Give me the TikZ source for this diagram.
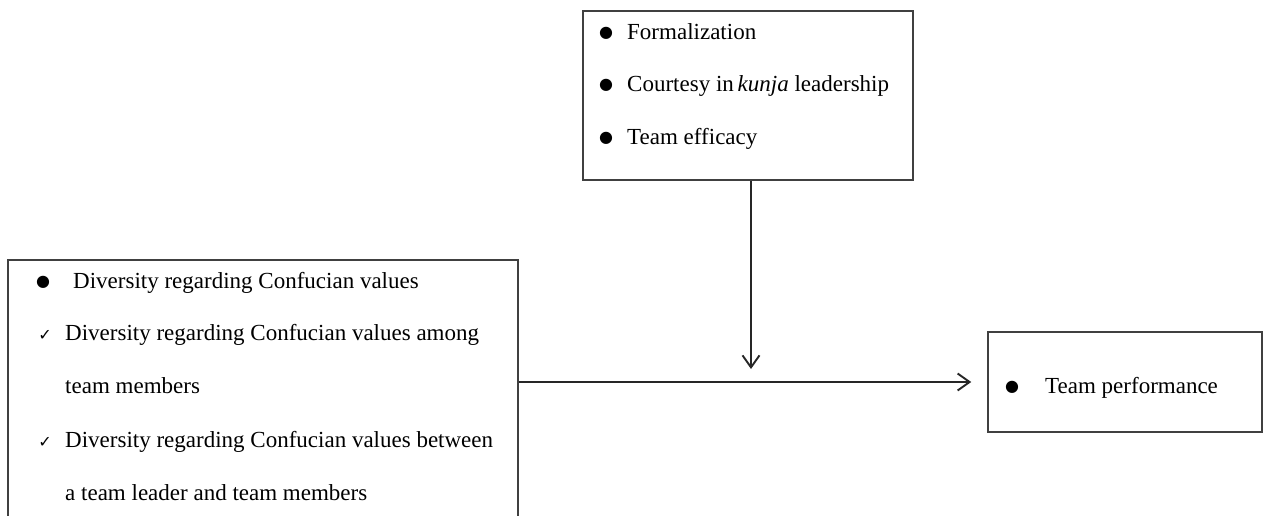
\documentclass[tikz,border=0pt]{standalone}
\usepackage{fontspec}
\setmainfont{Liberation Serif}
\newfontfamily\symfont{DejaVu Sans}
\usetikzlibrary{arrows.meta}
\begin{document}
\begin{tikzpicture}[x=1pt,y=-1pt,
  box/.style={draw=black!75,line width=1.5pt,inner sep=0pt,rectangle},
  txt/.style={anchor=base west,inner sep=0pt,font=\fontsize{23}{27}\selectfont},
  bulletmark/.style={anchor=base,inner sep=0pt,yshift=2pt,font=\symfont\fontsize{16}{18}\selectfont},
  checkmark/.style={anchor=base,inner sep=0pt,font=\symfont\fontsize{16}{18}\selectfont},
  conn/.style={line width=1.8pt,draw=black!85,-{Straight Barb[length=12pt,width=17pt,line width=1.9pt]}}]
\useasboundingbox (0,0) rectangle (1267,516);
\clip (0,0) rectangle (1267,516);
% boxes
\node[box,minimum width=330pt,minimum height=169pt] (mod) at (748,95.5) {};
\node[box,minimum width=510pt,minimum height=290pt] (div) at (263,405) {};
\node[box,minimum width=274pt,minimum height=100pt] (perf) at (1125,382) {};
% top box text
\node[bulletmark] (m1) at (606,40) {●};
\node[txt] (t1) at (627,40) {Formalization};
\node[bulletmark] (m2) at (606,92) {●};
\node[txt] (t2) at (627,92) {Courtesy in\,\textit{kunja} leadership};
\node[bulletmark] (m3) at (606,145) {●};
\node[txt] (t3) at (627,145) {Team efficacy};
% left box text
\node[bulletmark] (l1) at (43,288) {●};
\node[txt] (d1) at (73,288) {Diversity regarding Confucian values};
\node[checkmark] (l2) at (45,340) {✓};
\node[txt] (d2) at (65,340) {Diversity regarding Confucian values among};
\node[txt] (d3) at (65,393) {team members};
\node[checkmark] (l3) at (45,447) {✓};
\node[txt] (d4) at (65,447) {Diversity regarding Confucian values between};
\node[txt] (d5) at (65,500) {a team leader and team members};
% right box text
\node[bulletmark] (r1) at (1012,393) {●};
\node[txt] (p1) at (1045,393) {Team performance};
% connectors
\coordinate (modtip) at (751,369);
\draw[conn] (mod.south -| modtip) -- (modtip);
\draw[conn,shorten >=16pt] (div.east |- perf.west) -- (perf.west);
\end{tikzpicture}
\end{document}
